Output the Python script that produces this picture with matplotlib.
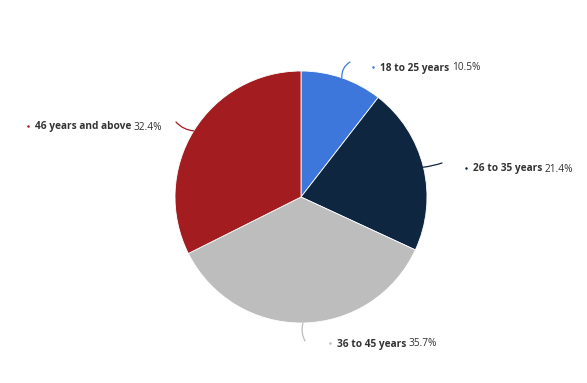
import matplotlib
matplotlib.use("Agg")
import matplotlib.pyplot as plt
import numpy as np

categories = ["18 to 25 years", "26 to 35 years", "36 to 45 years", "46 years and above"]
values = [10.5, 21.4, 35.7, 32.4]
colors = ["#3d77dc", "#0f2640", "#bdbdbd", "#a31c1f"]

W, H = 587, 383
fig = plt.figure(figsize=(W / 100, H / 100), dpi=100)
ax = fig.add_axes([0, 0, 1, 1])

cx, cy, r = 301, H - 197, 126
wedges, _ = ax.pie(values, colors=colors, startangle=90, counterclock=False,
                   center=(cx, cy), radius=r, frame=True,
                   wedgeprops=dict(linewidth=0.6, edgecolor="white"))
ax.set_xlim(0, W)
ax.set_ylim(0, H)
ax.set_aspect("equal")
ax.axis("off")

leader_end = [(350, 62), (442, 163), (305, 341), (176, 122)]
label_pos = [(373, 67), (466, 168), (330, 343), (28, 126)]
rads = [-0.3, 0.05, 0.2, -0.2]

fam = ["Open Sans", "DejaVu Sans"]
total = sum(values)
cum = 0
for i, (cat, v) in enumerate(zip(categories, values)):
    mid = 90 - (cum + v / 2) / total * 360
    cum += v
    a = np.deg2rad(mid)
    sx, sy = cx + r * np.cos(a), cy + r * np.sin(a)
    ex, ey = leader_end[i]
    ax.annotate("", xy=(ex, H - ey), xytext=(sx, sy),
                arrowprops=dict(arrowstyle="-", color=colors[i], lw=0.9,
                                shrinkA=0, shrinkB=0,
                                connectionstyle=f"arc3,rad={rads[i]}"))
    lx, ly = label_pos[i]
    ax.plot([lx], [H - ly], marker="o", markersize=1.8, color=colors[i], mec="none")
    base = H - ly - 3.5
    t = ax.text(lx + 7, base, cat, fontsize=7.3, fontweight="bold", family=fam,
                color="#333333", va="baseline", ha="left")
    fig.canvas.draw()
    bb = t.get_window_extent()
    ax.annotate(f"{v}%", xy=(bb.x1 + 2.5, base), xycoords=("figure pixels", "data"),
                fontsize=7.3, family=fam, color="#333333", va="baseline", ha="left")

fig.savefig("out.png", dpi=100, facecolor="white")
